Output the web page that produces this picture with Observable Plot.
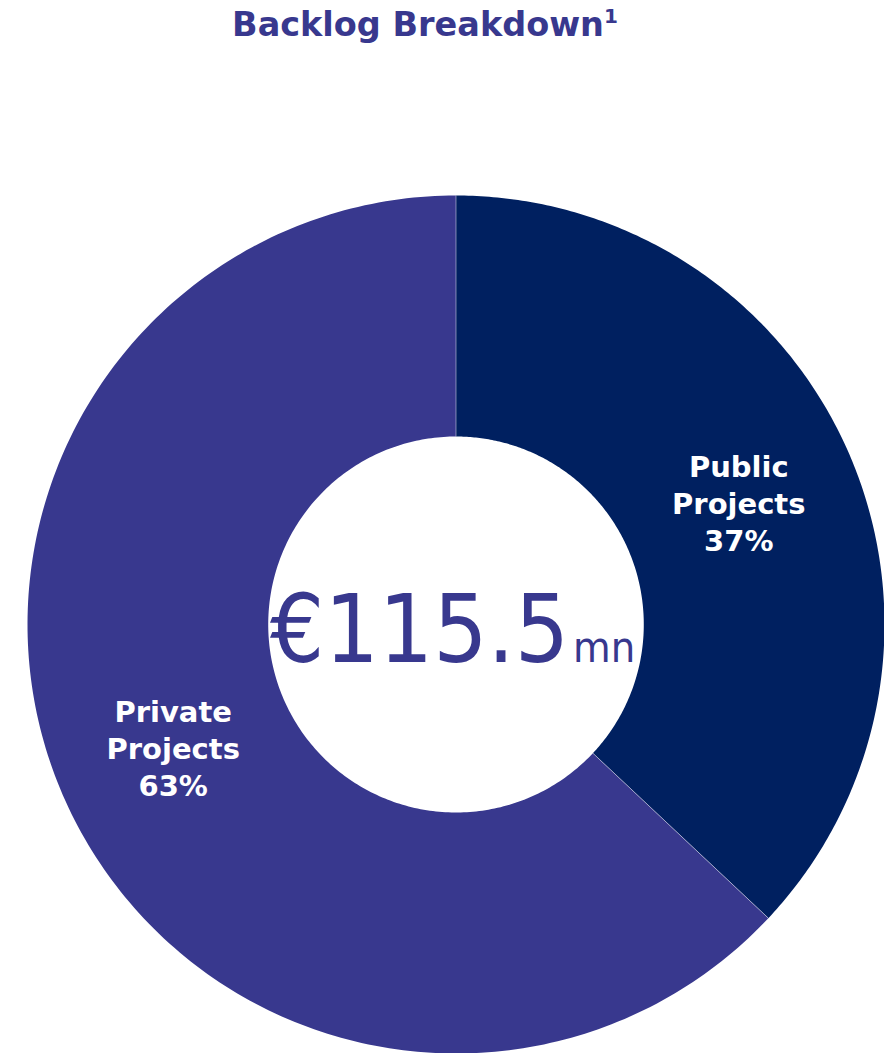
<!DOCTYPE html>
<html>
<head>
<meta charset="utf-8">
<script src="https://cdn.jsdelivr.net/npm/d3@7"></script>
<script src="https://cdn.jsdelivr.net/npm/@observablehq/plot@0.6"></script>
<style>
  html, body { margin: 0; padding: 0; background: #fff; }
  #title { height: 62px; line-height: 50px; font-family: "DejaVu Sans", sans-serif; font-weight: bold; font-size: 33.5px; color: #38388e; text-align: center; padding-right: 34px; white-space: nowrap; }
  #title sup { font-size: 20px; vertical-align: 13px; line-height: 0; }
  .center-text text { font-stretch: condensed; }
</style>
</head>
<body>
<div id="title">Backlog Breakdown<sup>1</sup></div>
<div id="chart"></div>
<script>
const titleText = "Backlog Breakdown";
const categories = ["Public Projects", "Private Projects"];
const shares = [37, 63];
const colors = ["#002060", "#38388e"];
const totalValue = "€115.5";
const totalUnit = "mn";

const innerRatio = 188 / 429;
const arcs = d3.pie().sort(null).value(d => d)(shares);

function ringPoints(a0, a1, key) {
  const pts = [];
  const n = 240;
  for (let i = 0; i <= n; i++) {
    const a = a0 + (a1 - a0) * i / n;
    pts.push({key, x: Math.sin(a), y: Math.cos(a)});
  }
  for (let i = n; i >= 0; i--) {
    const a = a0 + (a1 - a0) * i / n;
    pts.push({key, x: innerRatio * Math.sin(a), y: innerRatio * Math.cos(a)});
  }
  return pts;
}

const sliceMarks = arcs.map((arc, i) =>
  Plot.line(ringPoints(arc.startAngle, arc.endAngle, categories[i]), {
    x: "x", y: "y", fill: colors[i], stroke: "none", curve: "linear"
  })
);

const separators = arcs.map(a => a.startAngle).map(a => ({
  x1: innerRatio * Math.sin(a), y1: innerRatio * Math.cos(a),
  x2: Math.sin(a), y2: Math.cos(a)
}));

const mid = (innerRatio + 1) / 2;
const labels = arcs.map((arc, i) => {
  const a = (arc.startAngle + arc.endAngle) / 2;
  return {
    x: mid * Math.sin(a), y: mid * Math.cos(a),
    text: categories[i].replace(" ", "\n") + "\n" + shares[i] + "%"
  };
});

const chart = Plot.plot({
  width: 884,
  height: 991,
  marginLeft: 27,
  marginRight: 0,
  marginTop: 133,
  marginBottom: 0,
  x: {domain: [-1, 1], axis: null},
  y: {domain: [-1, 1], axis: null},
  style: {background: "white"},
  marks: [
    ...sliceMarks,
    Plot.link(separators, {x1: "x1", y1: "y1", x2: "x2", y2: "y2", stroke: "white", strokeOpacity: 0.45, strokeWidth: 1}),
    Plot.text(labels, {x: "x", y: "y", text: "text", fill: "white", fontSize: 29, fontWeight: "bold", fontFamily: "DejaVu Sans", lineHeight: 1.27, lineAnchor: "middle"}),
    Plot.text([totalValue], {text: d => d, frameAnchor: "middle", textAnchor: "end", lineAnchor: "bottom", dx: 113, dy: 37, fontSize: 95, fill: "#38388e", fontFamily: "DejaVu Sans Condensed, DejaVu Sans", className: "center-text"}),
    Plot.text([totalUnit], {text: d => d, frameAnchor: "middle", textAnchor: "start", lineAnchor: "bottom", dx: 117, dy: 37, fontSize: 43, fill: "#38388e", fontFamily: "DejaVu Sans Condensed, DejaVu Sans", className: "center-text"})
  ]
});
document.getElementById("chart").appendChild(chart);
</script>
</body>
</html>
